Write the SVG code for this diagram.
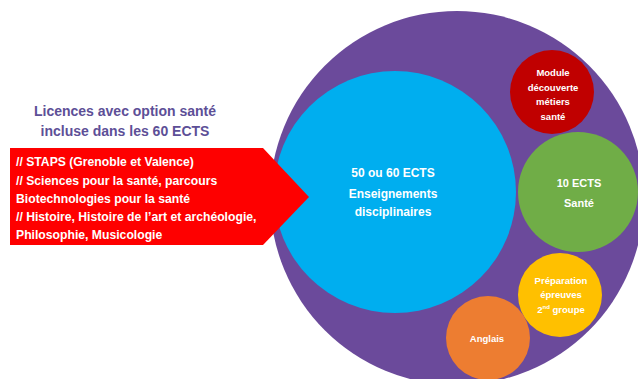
<svg xmlns="http://www.w3.org/2000/svg" width="638" height="379" viewBox="0 0 638 379">
<style>
text{font-family:"Liberation Sans",Arial,sans-serif;font-weight:bold}
.w{fill:#fff}
.c{text-anchor:middle}
</style>
<rect width="638" height="379" fill="#fff"/>
<g id="outer"><circle cx="457" cy="198" r="187" fill="#6b4a9b"/></g>
<g id="title">
<text class="c" x="125" y="116" font-size="14" fill="#5d4f97">Licences avec option santé</text>
<text class="c" x="125" y="136" font-size="14" fill="#5d4f97">incluse dans les 60 ECTS</text>
</g>
<g id="disciplinaires">
<circle cx="395" cy="192" r="121" fill="#00aeef"/>
<g class="w c" font-size="12">
<text x="393" y="177">50 ou 60 ECTS</text>
<text x="393" y="198">Enseignements</text>
<text x="393" y="216">disciplinaires</text>
</g>
</g>
<g id="arrow">
<polygon points="10,148 263,148 309,197 263,245 10,245" fill="#fe0000"/>
<g class="w" font-size="12.2">
<text x="16" y="166">// STAPS (Grenoble et Valence)</text>
<text x="16" y="185">// Sciences pour la santé, parcours</text>
<text x="16" y="203">Biotechnologies pour la santé</text>
<text x="16" y="221">// Histoire, Histoire de l’art et archéologie,</text>
<text x="16" y="239">Philosophie, Musicologie</text>
</g>
</g>
<g id="module">
<circle cx="552" cy="92" r="42" fill="#c00000"/>
<g class="w c" font-size="9.5">
<text x="553" y="76">Module</text>
<text x="553" y="91">découverte</text>
<text x="553" y="105">métiers</text>
<text x="553" y="120">santé</text>
</g>
</g>
<g id="sante">
<circle cx="578" cy="192" r="60" fill="#70ad47"/>
<g class="w c" font-size="11">
<text x="579" y="187">10 ECTS</text>
<text x="579" y="207">Santé</text>
</g>
</g>
<g id="preparation">
<circle cx="560" cy="295" r="42" fill="#ffc000"/>
<g class="w c" font-size="9.5">
<text x="561" y="284">Préparation</text>
<text x="561" y="298">épreuves</text>
<text x="561" y="313">2<tspan font-size="6" dy="-4">nd</tspan><tspan dy="4"> groupe</tspan></text>
</g>
</g>
<g id="anglais">
<circle cx="488" cy="338" r="42" fill="#ed7d31"/>
<text class="w c" x="487" y="342" font-size="9.5">Anglais</text>
</g>
</svg>
